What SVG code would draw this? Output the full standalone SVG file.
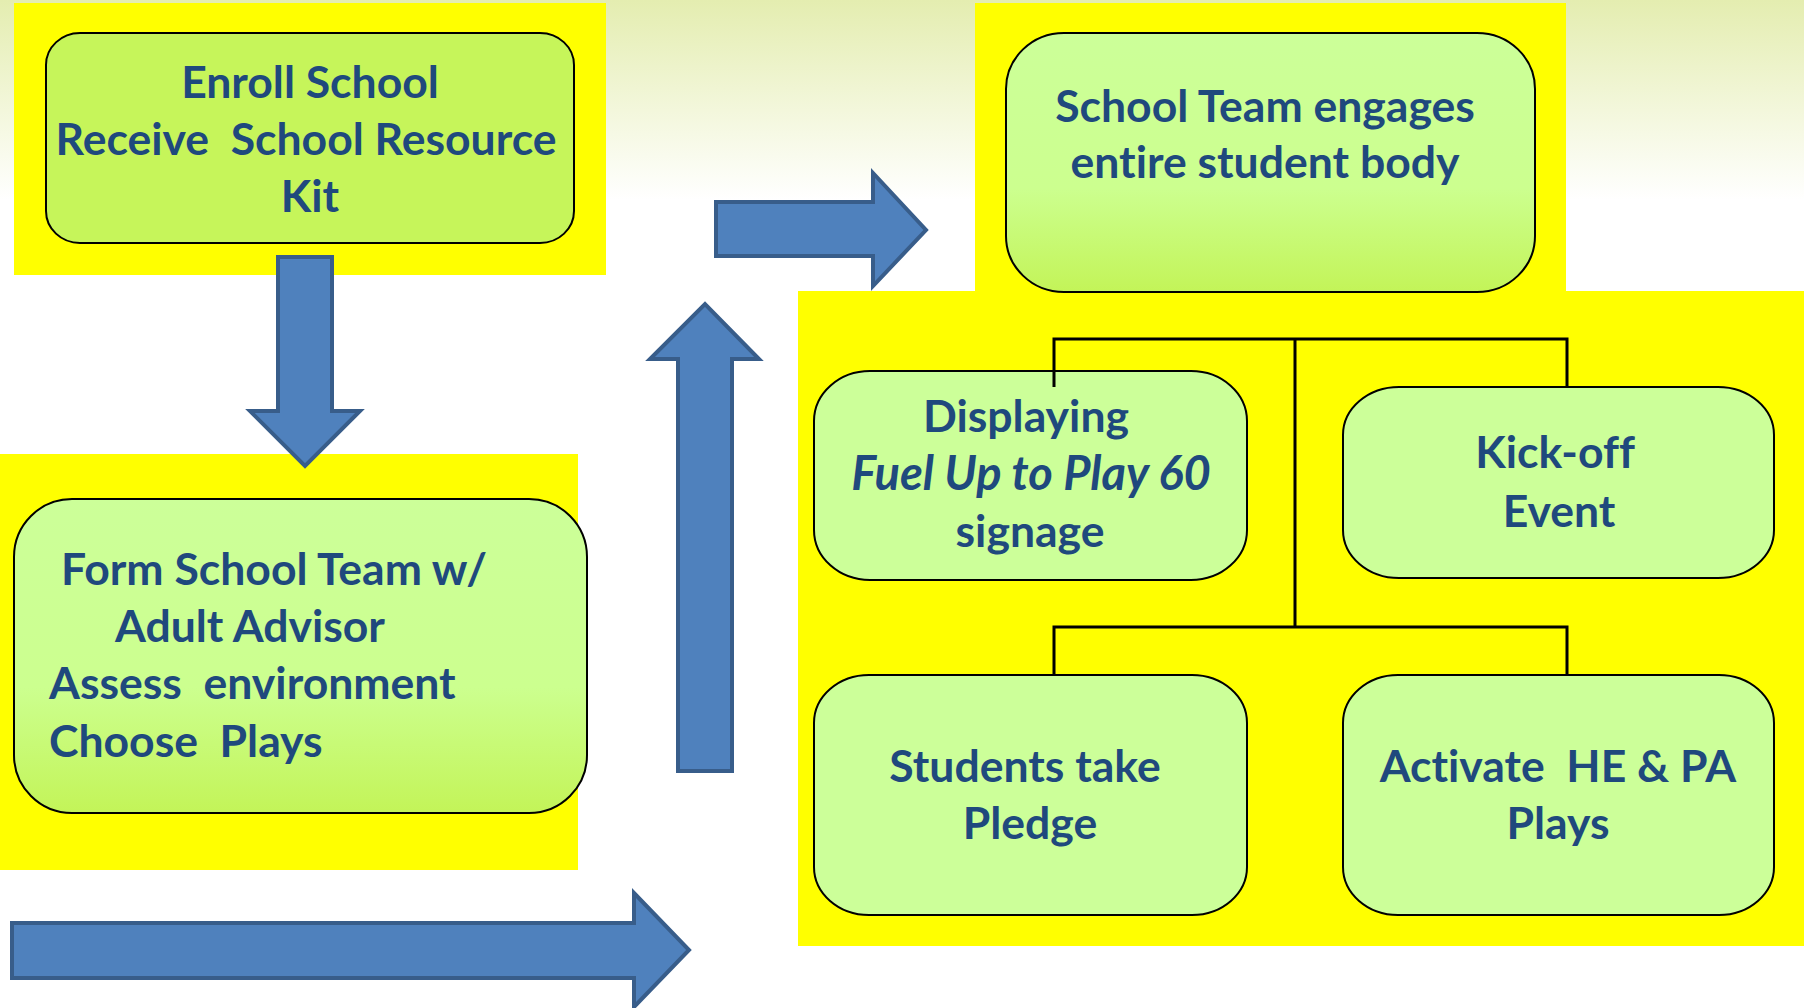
<svg xmlns="http://www.w3.org/2000/svg" width="1804" height="1008" viewBox="0 0 1804 1008">
  <defs>
    <linearGradient id="bg" x1="0" y1="0" x2="0" y2="200" gradientUnits="userSpaceOnUse">
      <stop offset="0" stop-color="#e4edb0"/>
      <stop offset="1" stop-color="#ffffff"/>
    </linearGradient>
    <linearGradient id="fadeFill" x1="0" y1="0" x2="0" y2="1">
      <stop offset="0" stop-color="#ccff99"/>
      <stop offset="0.6" stop-color="#ccff8f"/>
      <stop offset="1" stop-color="#c3f458"/>
    </linearGradient>
    <style>
      .band { fill: #ffff00; }
      .box { stroke: #000000; stroke-width: 2; }
      .lime { fill: #c6f55a; }
      .pale { fill: #ccff99; }
      .fade { fill: url(#fadeFill); }
      .arrow { fill: #4f81bd; stroke: #385d8a; stroke-width: 4; stroke-linejoin: miter; }
      .label { font-family: Lato, "Liberation Sans", sans-serif; font-weight: bold; font-size: 44.5px; fill: #1f497d; font-variant-ligatures: none; }
      .mid { text-anchor: middle; }
      .it { font-style: italic; font-size: 47px; }
      .wire { fill: none; stroke: #000000; stroke-width: 3; }
    </style>
  </defs>

  <!-- page background -->
  <rect x="0" y="0" width="1804" height="1008" fill="url(#bg)"/>

  <!-- yellow highlight panels -->
  <g id="panels">
    <rect class="band" x="14" y="3" width="592" height="272"/>
    <rect class="band" x="0" y="454" width="578" height="416"/>
    <rect class="band" x="975" y="3" width="591" height="290"/>
    <rect class="band" x="798" y="291" width="1006" height="655"/>
  </g>

  <!-- block arrows showing the flow -->
  <g id="flow-arrows">
    <polygon class="arrow" points="278,257 332,257 332,411 360,411 305,466 250,411 278,411"/>
    <polygon class="arrow" points="12,923 634,923 634,893 689,950 634,1007 634,978 12,978"/>
    <polygon class="arrow" points="678,771 678,359 650,359 705,304 759,359 732,359 732,771"/>
    <polygon class="arrow" points="716,202 873,202 873,173 926,230 873,286 873,256 716,256"/>
  </g>

  <g id="node-enroll">
    <rect class="box lime" x="46" y="33" width="528" height="210" rx="34" ry="32"/>
    <text class="label mid" x="310" y="98">Enroll School</text>
    <text class="label mid" x="306" y="155" xml:space="preserve">Receive  School Resource</text>
    <text class="label mid" x="310" y="212">Kit</text>
  </g>

  <g id="node-team">
    <rect class="box fade" x="14" y="499" width="573" height="314" rx="58" ry="58"/>
    <text class="label" x="61" y="585">Form School Team w/</text>
    <text class="label" x="115" y="642">Adult Advisor</text>
    <text class="label" x="49" y="699" xml:space="preserve">Assess  environment</text>
    <text class="label" x="49" y="757" xml:space="preserve">Choose  Plays</text>
  </g>

  <g id="node-engage">
    <rect class="box fade" x="1006" y="33" width="529" height="259" rx="58" ry="56"/>
    <text class="label mid" x="1265" y="122">School Team engages</text>
    <text class="label mid" x="1265" y="178">entire student body</text>
  </g>

  <g id="node-signage">
    <rect class="box pale" x="814" y="371" width="433" height="209" rx="56" ry="50"/>
    <text class="label mid" x="1026" y="432">Displaying</text>
    <text class="label mid it" x="1031" y="490">Fuel Up to Play 60</text>
    <text class="label mid" x="1030" y="547">signage</text>
  </g>

  <g id="node-kickoff">
    <rect class="box pale" x="1343" y="387" width="431" height="191" rx="56" ry="48"/>
    <text class="label mid" x="1555" y="468">Kick-off</text>
    <text class="label mid" x="1559" y="527">Event</text>
  </g>

  <g id="node-pledge">
    <rect class="box pale" x="814" y="675" width="433" height="240" rx="55" ry="48"/>
    <text class="label mid" x="1025" y="782">Students take</text>
    <text class="label mid" x="1030" y="839">Pledge</text>
  </g>

  <g id="node-plays">
    <rect class="box pale" x="1343" y="675" width="431" height="240" rx="55" ry="48"/>
    <text class="label mid" x="1558" y="782" xml:space="preserve">Activate  HE &amp; PA</text>
    <text class="label mid" x="1558" y="839">Plays</text>
  </g>

  <!-- tree connectors linking the four activities -->
  <g id="connectors">
    <path class="wire" d="M1054,387 V339 H1567 V387"/>
    <path class="wire" d="M1295,339 V627"/>
    <path class="wire" d="M1054,675 V627 H1567 V675"/>
  </g>
</svg>
